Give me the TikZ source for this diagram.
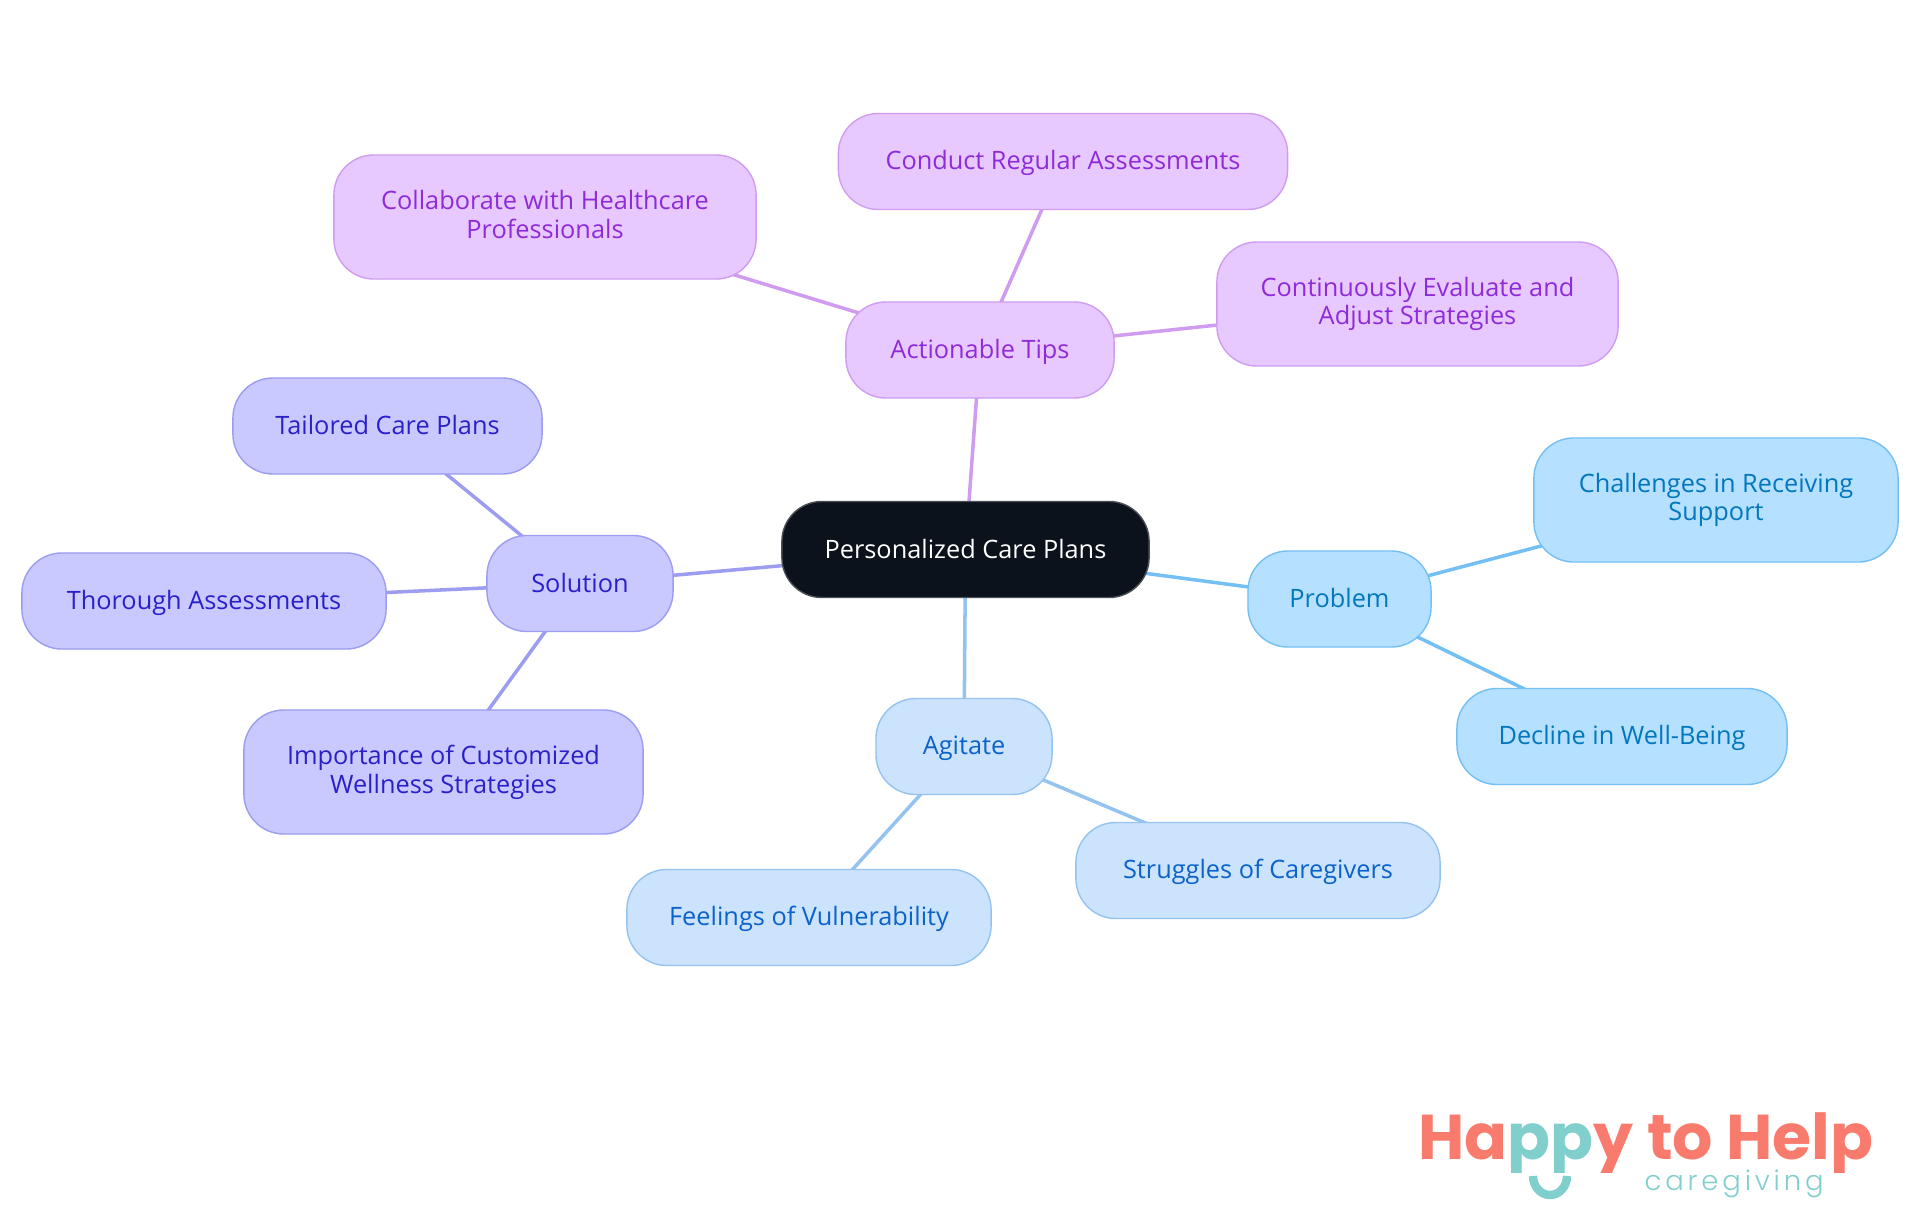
\documentclass[tikz,border=0pt]{standalone}
\usepackage{fontspec}
\setmainfont{Open Sans}
\newfontfamily\logofont{Poppins}
\newfontfamily\tagfont{Poppins Light}[LetterSpace=14]
\usepackage{xcolor}
\usetikzlibrary{positioning,backgrounds}

\definecolor{rootfill}{HTML}{0B121B}
\definecolor{rootline}{HTML}{4A4F55}
\definecolor{probfill}{HTML}{B5E0FF}
\definecolor{probline}{HTML}{74C0F4}
\definecolor{probtext}{HTML}{0277BD}
\definecolor{agitfill}{HTML}{CCE3FD}
\definecolor{agitline}{HTML}{94C3F0}
\definecolor{agittext}{HTML}{0B62C9}
\definecolor{solvfill}{HTML}{C9C9FF}
\definecolor{solvline}{HTML}{9C9CF0}
\definecolor{solvtext}{HTML}{2A20C9}
\definecolor{tipsfill}{HTML}{E8C9FF}
\definecolor{tipsline}{HTML}{CF9CF0}
\definecolor{tipstext}{HTML}{8E2BD8}
\definecolor{logored}{HTML}{F97B6D}
\definecolor{logoteal}{HTML}{81CFCD}

\begin{document}
\begin{tikzpicture}[
  x=0.01cm,y=-0.01cm,
  every node/.style={font=\fontsize{7.2}{8.2}\selectfont},
  mapbox/.style={draw,line width=0.4pt,rounded corners=0.4cm,align=center,inner sep=0pt,minimum height=0.96cm,
    execute at begin node={\rule{0pt}{2.3mm}},execute at end node={\rule[-0.6mm]{0pt}{0.6mm}}},
  twoline/.style={minimum height=1.24cm},
  rootbox/.style={mapbox,fill=rootfill,draw=rootline,text=white},
  probbox/.style={mapbox,fill=probfill,draw=probline,text=probtext},
  agitbox/.style={mapbox,fill=agitfill,draw=agitline,text=agittext},
  solvbox/.style={mapbox,fill=solvfill,draw=solvline,text=solvtext},
  tipsbox/.style={mapbox,fill=tipsfill,draw=tipsline,text=tipstext},
  link/.style={line width=1pt}
]
  \useasboundingbox (0,0) rectangle (1920,1215);

  \node[rootbox,minimum width=3.67cm] (root) at (965.5,549.5) {Personalized Care Plans};

  \node[probbox,minimum width=1.83cm] (problem) at (1339.5,599) {Problem};
  \node[probbox,twoline,minimum width=3.64cm] (challenges) at (1716,500) {Challenges in Receiving\\Support};
  \node[probbox,minimum width=3.30cm] (decline) at (1622,736.5) {Decline in Well-Being};

  \node[agitbox,minimum width=1.76cm] (agitate) at (964,746.5) {Agitate};
  \node[agitbox,minimum width=3.64cm] (struggles) at (1258,870.5) {Struggles of Caregivers};
  \node[agitbox,minimum width=3.64cm] (feelings) at (809,917.5) {Feelings of Vulnerability};

  \node[solvbox,minimum width=1.86cm] (solution) at (580,583.5) {Solution};
  \node[solvbox,minimum width=3.09cm] (tailored) at (387.5,426) {Tailored Care Plans};
  \node[solvbox,minimum width=3.64cm] (thorough) at (204,601) {Thorough Assessments};
  \node[solvbox,twoline,minimum width=3.99cm] (importance) at (443.5,772) {Importance of Customized\\Wellness Strategies};

  \node[tipsbox,minimum width=2.68cm] (tips) at (980,350) {Actionable Tips};
  \node[tipsbox,minimum width=4.49cm] (conduct) at (1063,161.5) {Conduct Regular Assessments};
  \node[tipsbox,twoline,minimum width=4.22cm] (collaborate) at (545,217) {Collaborate with Healthcare\\Professionals};
  \node[tipsbox,twoline,minimum width=4.01cm] (evaluate) at (1417.5,304) {Continuously Evaluate and\\Adjust Strategies};

  \begin{scope}[on background layer]
    \draw[link,probline] (root.center) -- (problem.center);
    \draw[link,probline] (problem.center) -- (challenges.center);
    \draw[link,probline] (problem.center) -- (decline.center);
    \draw[link,agitline] (root.center) -- (agitate.center);
    \draw[link,agitline] (agitate.center) -- (struggles.center);
    \draw[link,agitline] (agitate.center) -- (feelings.center);
    \draw[link,solvline] (root.center) -- (solution.center);
    \draw[link,solvline] (solution.center) -- (tailored.center);
    \draw[link,solvline] (solution.center) -- (thorough.center);
    \draw[link,solvline] (solution.center) -- (importance.center);
    \draw[link,tipsline] (root.center) -- (tips.center);
    \draw[link,tipsline] (tips.center) -- (conduct.center);
    \draw[link,tipsline] (tips.center) -- (collaborate.center);
    \draw[link,tipsline] (tips.center) -- (evaluate.center);
  \end{scope}

  % logo
  \begin{scope}
    \clip (1400,1090) rectangle (1900,1172);
    \node[anchor=base west,inner sep=0pt,text=logored,font=\logofont\bfseries\fontsize{18}{19}\selectfont] (logoname) at (1418,1159)
      {Ha\textcolor{logoteal}{pp}y to Help};
  \end{scope}
  \node[anchor=base west,inner sep=0pt,text=logoteal,font=\tagfont\fontsize{7.8}{9}\selectfont] (logotag) at (1644,1190)
    {caregiving};
  \draw[logoteal,line width=2.4pt] (1533,1176) arc[start angle=180,end angle=360,x radius=17,y radius=-19];
\end{tikzpicture}
\end{document}
